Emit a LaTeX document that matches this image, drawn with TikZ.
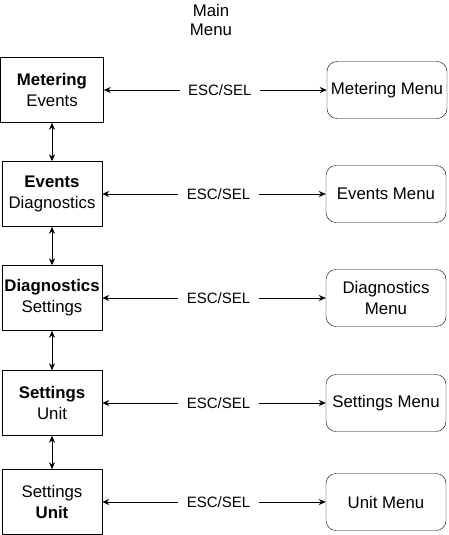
\documentclass[tikz,border=0pt]{standalone}
\usepackage{fontspec}
\setmainfont{Liberation Sans}
\usetikzlibrary{arrows.meta}
\begin{document}
\begin{tikzpicture}[x=1pt, y=1pt,
    item/.style={draw, rectangle, minimum width=100pt, minimum height=65pt,
      inner sep=1pt, align=center, font=\fontsize{16.8}{20.7}\selectfont},
    menu/.style={draw, rectangle, rounded corners=10pt, minimum width=120pt,
      minimum height=57pt, inner sep=1pt, align=center,
      font=\fontsize{16.8}{20.7}\selectfont},
    link/.style={{Stealth[length=7pt,width=6pt]}-{Stealth[length=7pt,width=6pt]},
      line width=0.9pt},
    key/.style={fill=white, inner xsep=8.5pt, inner ysep=2pt,
      font=\fontsize{15}{18}\selectfont}]

      \useasboundingbox (0,0) rectangle (448,-535);

      \node[align=center, font=\fontsize{16.8}{19.5}\selectfont] (title) at (211,-20) {Main\\Menu};

      % left column
      \node[item, minimum width=103pt] (metering) at (52,-90) {\textbf{Metering}\\Events};
      \node[item] (events) at (52,-194) {\textbf{Events}\\Diagnostics};
      \node[item] (diagnostics) at (52,-298) {\textbf{Diagnostics}\\Settings};
      \node[item] (settings) at (52,-403) {\textbf{Settings}\\Unit};
      \node[item] (unit) at (52,-502) {Settings\\\textbf{Unit}};

      % right column
      \node[menu] (meteringmenu) at (387,-90) {Metering Menu};
      \node[menu] (eventsmenu) at (386,-194) {Events Menu};
      \node[menu] (diagnosticsmenu) at (386,-298) {Diagnostics\\Menu};
      \node[menu] (settingsmenu) at (386,-403) {Settings Menu};
      \node[menu] (unitmenu) at (386,-502) {Unit Menu};

      \draw[link] (metering.south) -- (events.north);
      \draw[link] (events.south) -- (diagnostics.north);
      \draw[link] (diagnostics.south) -- (settings.north);
      \draw[link] (settings.south) -- (unit.north);

      \draw[link] (metering.east) -- node[key, pos=0.52] {ESC/SEL} (meteringmenu.west);
      \draw[link] (events.east) -- node[key, pos=0.52] {ESC/SEL} (eventsmenu.west);
      \draw[link] (diagnostics.east) -- node[key, pos=0.52] {ESC/SEL} (diagnosticsmenu.west);
      \draw[link] (settings.east) -- node[key, pos=0.52] {ESC/SEL} (settingsmenu.west);
      \draw[link] (unit.east) -- node[key, pos=0.52] {ESC/SEL} (unitmenu.west);
    \end{tikzpicture}
\end{document}
